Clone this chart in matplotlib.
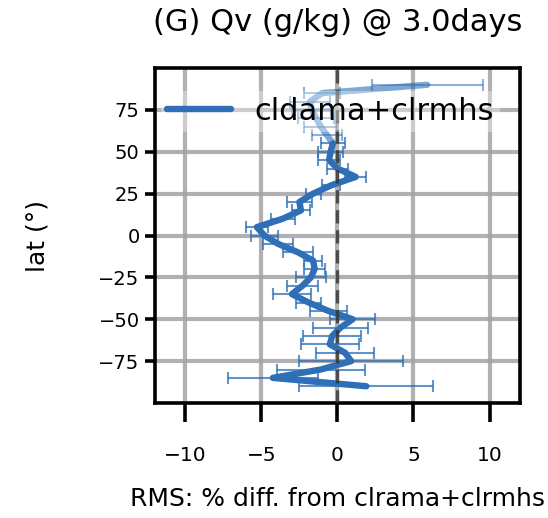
import matplotlib
matplotlib.use("Agg")
import matplotlib.pyplot as plt
import numpy as np

lat = [-90, -85, -80, -75, -70, -65, -60, -55, -50, -45, -40, -35, -30, -25, -20,
       -15, -10, -5, 0, 5, 10, 15, 20, 25, 30, 35, 40, 45, 50, 55, 60, 65, 70, 75,
       80, 85, 90]
rms_diff = [1.9, -4.25, -1.1, 0.9, 0.5, -0.5, -0.35, 0.2, 1.0, -0.6, -1.9, -3.0,
            -2.3, -1.75, -1.5, -1.6, -2.6, -3.9, -4.8, -5.3, -3.6, -2.4, -2.5, -1.6,
            -0.4, 1.2, 0.0, -0.55, -0.45, -0.3, -0.7, -1.1, -1.4, -1.7, -1.8, -1.0, 5.9]
rms_err = [4.4, 2.95, 2.9, 3.4, 1.9, 1.9, 1.9, 1.8, 1.5, 1.2, 0.8, 1.25, 1.0, 1.0,
           0.7, 0.6, 1.0, 1.0, 0.9, 0.7, 0.8, 0.6, 0.8, 0.5, 0.6, 0.7, 0.7, 0.7,
           0.8, 0.8, 1.0, 1.1, 1.2, 1.3, 1.3, 1.2, 3.65]
series_label = "cldama+clrmhs"
title = "(G) Qv (g/kg) @ 3.0days"
xlabel = "RMS: % diff. from clrama+clrmhs"
ylabel = "lat (°)"
xticks = [-10, -5, 0, 5, 10]
yticks = [-75, -50, -25, 0, 25, 50, 75]

lat = np.array(lat)
rms_diff = np.array(rms_diff)
rms_err = np.array(rms_err)

color = "#2e6fb7"

fig = plt.figure(figsize=(5.48, 5.18), dpi=100)
ax = fig.add_axes([0.2828, 0.222, 0.666, 0.6467])

ax.grid(True, color="#a4a4a4", linewidth=3.0, alpha=0.85, zorder=0)
ax.set_axisbelow(True)

dark = lat <= 55
light = lat >= 55
ax.errorbar(rms_diff[dark], lat[dark], xerr=rms_err[dark], fmt="none",
            ecolor=color, elinewidth=1.5, capsize=4.5, capthick=1.5, alpha=0.75, zorder=2)
ax.errorbar(rms_diff[lat > 55], lat[lat > 55], xerr=rms_err[lat > 55], fmt="none",
            ecolor=color, elinewidth=1.5, capsize=4.5, capthick=1.5, alpha=0.55, zorder=2)
ax.plot(rms_diff[dark], lat[dark], color=color, linewidth=4.6, zorder=3,
        solid_capstyle="round", solid_joinstyle="round", label=series_label)
ax.plot(rms_diff[light], lat[light], color=color, linewidth=4.6, alpha=0.6, zorder=3,
        solid_capstyle="round", solid_joinstyle="round")

ax.axvline(0, color="#333333", linewidth=2.4, linestyle=(0, (4, 2)), alpha=0.8, zorder=4)

ax.set_xlim(-12, 12)
ax.set_ylim(-100, 100)
ax.set_xticks(xticks)
ax.set_yticks(yticks)
ax.set_xticklabels([str(v).replace("-", "\u2212") for v in xticks])

for s in ax.spines.values():
    s.set_linewidth(2.6)
    s.set_color("black")
ax.tick_params(axis="x", which="major", length=14, width=2.6, labelsize=14.5,
               direction="out", pad=17)
ax.tick_params(axis="y", which="major", length=7, width=2.6, labelsize=14,
               direction="out", pad=4)

ax.set_title(title, fontsize=22, pad=27)
ax.set_xlabel(xlabel, fontsize=18, labelpad=16)
ax.set_ylabel(ylabel, fontsize=18, labelpad=35)

leg = ax.legend(loc="upper left", bbox_to_anchor=(0.0, 0.95), fontsize=22,
                frameon=True, framealpha=0.35, edgecolor="none", facecolor="white",
                handlelength=2.1, borderpad=0.2, borderaxespad=0.2, handletextpad=0.75)

fig.savefig("out.png", dpi=100)
